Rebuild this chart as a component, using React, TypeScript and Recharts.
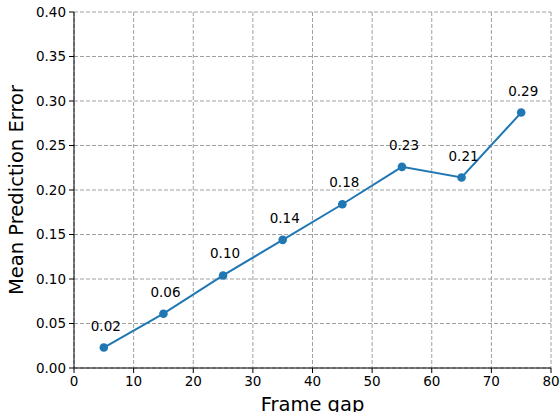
import {
  CartesianGrid,
  Label,
  LabelList,
  Line,
  LineChart,
  XAxis,
  YAxis,
} from "recharts";

const frameGaps = [5, 15, 25, 35, 45, 55, 65, 75];
const meanErrors = [0.023, 0.061, 0.104, 0.144, 0.184, 0.226, 0.214, 0.287];
const xTicks = [0, 10, 20, 30, 40, 50, 60, 70, 80];
const yTicks = [0, 0.05, 0.1, 0.15, 0.2, 0.25, 0.3, 0.35, 0.4];

const data = frameGaps.map((g, i) => ({ gap: g, err: meanErrors[i] }));

const FONT = "DejaVu Sans, sans-serif";
const tickStyle = { fill: "#000", fontSize: 13.5, fontFamily: FONT };

function ValueLabel(props: any) {
  const { x, y, value } = props;
  return (
    <text
      x={x + 2}
      y={y - 17}
      textAnchor="middle"
      fill="#000"
      fontSize={13.5}
      fontFamily={FONT}
    >
      {Number(value).toFixed(2)}
    </text>
  );
}

export default function App() {
  return (
    <div style={{ position: "absolute", left: 0, top: 0, background: "#fff" }}>
      <LineChart
        width={560}
        height={412}
        data={data}
        margin={{ top: 12, right: 9, bottom: 0, left: 0 }}
      >
        <CartesianGrid
          stroke="#a0a0a0"
          strokeDasharray="4 2"
          horizontalValues={yTicks}
          verticalValues={xTicks}
        />
        <XAxis
          dataKey="gap"
          type="number"
          domain={[0, 80]}
          ticks={xTicks}
          interval={0}
          height={44}
          stroke="#000"
          tickSize={5}
          tick={tickStyle}
          tickMargin={3}
        >
          <Label
            value="Frame gap"
            position="insideBottom"
            offset={1}
            style={{ fill: "#000", fontSize: 19.5, fontFamily: FONT }}
          />
        </XAxis>
        <XAxis
          xAxisId="top"
          orientation="top"
          dataKey="gap"
          type="number"
          domain={[0, 80]}
          height={0}
          tick={false}
          tickLine={false}
          stroke="#000"
        />
        <YAxis
          type="number"
          domain={[0, 0.4]}
          ticks={yTicks}
          interval={0}
          width={74}
          stroke="#000"
          tickSize={5}
          tickMargin={3}
          tick={tickStyle}
          tickFormatter={(v: number) => v.toFixed(2)}
        >
          <Label
            value="Mean Prediction Error"
            angle={-90}
            position="insideLeft"
            offset={16}
            style={{
              fill: "#000",
              fontSize: 19.5,
              fontFamily: FONT,
              textAnchor: "middle",
            }}
          />
        </YAxis>
        <YAxis
          yAxisId="right"
          orientation="right"
          type="number"
          domain={[0, 0.4]}
          width={0}
          tick={false}
          tickLine={false}
          stroke="#000"
        />
        <Line
          dataKey="err"
          stroke="#1f77b4"
          strokeWidth={2}
          dot={{ r: 4.3, fill: "#1f77b4", stroke: "#1f77b4", strokeWidth: 0 }}
          activeDot={false}
          isAnimationActive={false}
        >
          <LabelList dataKey="err" content={ValueLabel} />
        </Line>
      </LineChart>
    </div>
  );
}
